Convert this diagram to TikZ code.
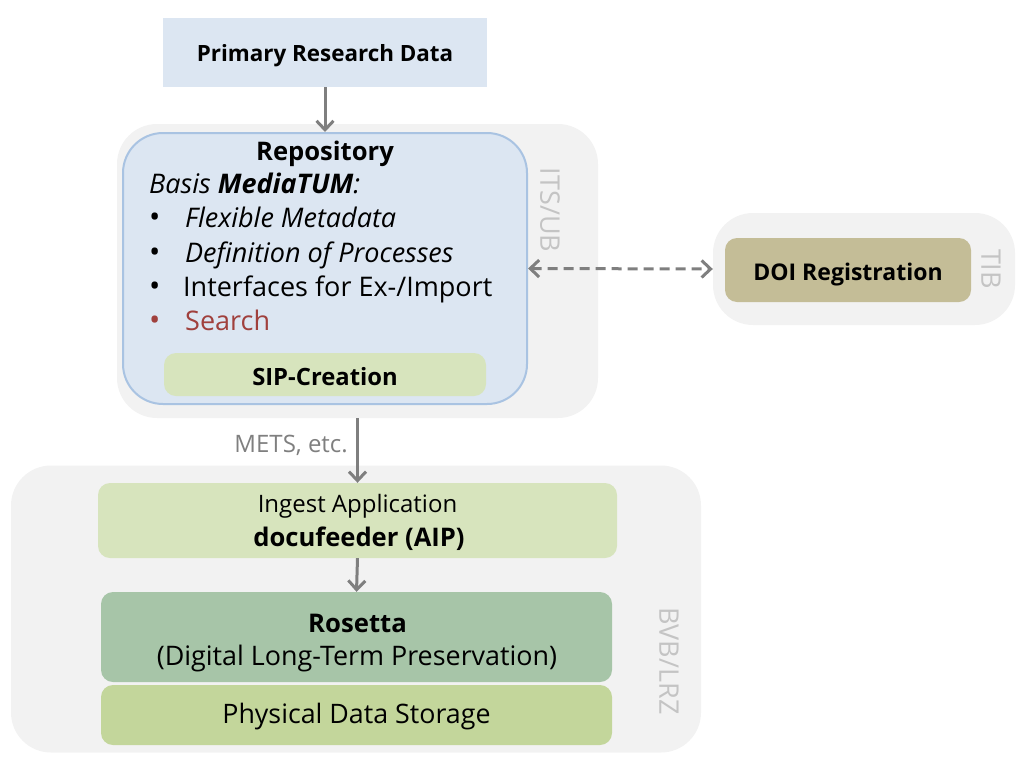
\documentclass[tikz,border=0pt]{standalone}
\usepackage{fontspec}
\setmainfont{Open Sans}
\usetikzlibrary{arrows.meta}
\definecolor{lblue}{HTML}{DCE6F2}
\definecolor{bblue}{HTML}{A9C3E2}
\definecolor{grp}{HTML}{F2F2F2}
\definecolor{lgreen}{HTML}{D7E4BD}
\definecolor{olive}{HTML}{C4BD97}
\definecolor{rgreen}{HTML}{A7C5A8}
\definecolor{pgreen}{HTML}{C3D69B}
\definecolor{glabel}{HTML}{C4C4C4}
\definecolor{arr}{HTML}{7F7F7F}
\definecolor{sred}{HTML}{A0403D}
\tikzset{
  group/.style={fill=grp, draw=none, rounded corners=40pt},
  box/.style={draw=none, rounded corners=12pt},
  glab/.style={text=glabel, rotate=-90, inner sep=0pt, font=\fontsize{27}{32}\selectfont},
  tip/.style={Straight Barb[length=9pt,width=17pt,line width=3pt]},
  conn/.style={draw=arr, line width=3pt, -{Straight Barb[length=9pt,width=17pt,line width=3pt]}},
  txt/.style={anchor=base, inner sep=0pt},
  item/.style={anchor=base west, inner sep=0pt, font=\fontsize{27}{32}\selectfont},
  bul/.style={anchor=base west, inner sep=0pt, font=\fontsize{30}{32}\selectfont},
}
\begin{document}
\begin{tikzpicture}[x=1pt,y=-1pt]
\useasboundingbox (0,0) rectangle (1024,763);
% groups
\node[group, minimum width=481pt, minimum height=294pt] (its) at (357.5,271) {};
\node[group, minimum width=302pt, minimum height=112pt] (tib) at (864,269) {};
\node[group, minimum width=690pt, minimum height=287pt] (bvb) at (356,609) {};
\node[glab] (itsl) at (550,210) {ITS/UB};
\node[glab] (tibl) at (991,269) {TIB};
\node[glab] (bvbl) at (669,661) {BVB/LRZ};
% primary
\node[fill=lblue, minimum width=324pt, minimum height=69pt] (prd) at (325,52.5) {};
\node[txt, font=\bfseries\fontsize{22.4}{26}\selectfont] (prdt) at (325,61) {Primary Research Data};
% repository
\node[fill=lblue, draw=bblue, line width=2pt, rounded corners=40pt, minimum width=404pt, minimum height=271pt] (repo) at (325,268.5) {};
\node[txt, font=\bfseries\fontsize{25.6}{30}\selectfont] (repot) at (325,160) {Repository};
\node[item] (basis) at (149,193) {\itshape Basis \textbf{MediaTUM}:};
\node[bul] (b1) at (149,227.5) {\textbullet};
\node[item] (t1) at (185,227.5) {\itshape Flexible Metadata};
\node[bul] (b2) at (149,262) {\textbullet};
\node[item] (t2) at (185,262) {\itshape Definition of Processes};
\node[bul] (b3) at (149,296) {\textbullet};
\node[item] (t3) at (183,296) {Interfaces for Ex-/Import};
\node[bul, text=sred] (b4) at (149,330) {\textbullet};
\node[item, text=sred] (t4) at (185,330) {Search};
\node[box, fill=lgreen, minimum width=322pt, minimum height=43pt] (sip) at (325,374.5) {};
\node[txt, font=\bfseries\fontsize{23.8}{28}\selectfont] (sipt) at (325,385) {SIP-Creation};
% DOI
\node[box, fill=olive, minimum width=246pt, minimum height=64pt] (doi) at (848,270) {};
\node[txt, font=\bfseries\fontsize{23}{27}\selectfont] (doit) at (848,280) {DOI Registration};
% bottom
\node[box, fill=lgreen, minimum width=519pt, minimum height=75pt] (ing) at (357.5,520.5) {};
\node[txt, font=\fontsize{24}{28}\selectfont] (ingt) at (357.5,512) {Ingest Application};
\node[txt, font=\bfseries\fontsize{25.6}{30}\selectfont] (docu) at (359,546) {docufeeder (AIP)};
\node[box, fill=rgreen, minimum width=511pt, minimum height=90pt] (ros) at (356.5,637) {};
\node[txt, font=\bfseries\fontsize{25.7}{30}\selectfont] (rost) at (357.5,632) {Rosetta};
\node[txt, font=\fontsize{26.9}{31}\selectfont] (rosd) at (357,665) {(Digital Long-Term Preservation)};
\node[box, fill=pgreen, minimum width=511pt, minimum height=60pt] (phy) at (356.5,715) {};
\node[txt, font=\fontsize{26.8}{31}\selectfont] (phyt) at (356.5,723) {Physical Data Storage};
% connectors
\draw[conn] (prd.south) -- (repo.north);
\draw[draw=arr, line width=3pt, dash pattern=on 10pt off 6pt, {Straight Barb[length=9pt,width=17pt,line width=3pt]}-{Straight Barb[length=9pt,width=17pt,line width=3pt]}] (repo.east) -- (tib.west);
\draw[conn] (its.south) -- (ing.north);
\node[anchor=base east, inner sep=0pt, text=arr, font=\fontsize{24}{28}\selectfont] (mets) at (348,452) {METS, etc.};
\draw[conn] (ing.south) -- (ros.north);
\end{tikzpicture}
\end{document}
